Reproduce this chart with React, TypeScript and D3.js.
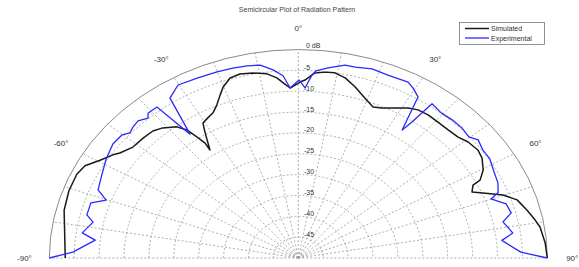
import React from 'react';
import * as d3 from 'd3';

const W = 579;
const H = 267;

const titleText = 'Semicircular Plot of Radiation Pattern';
const seriesNames = ['Simulated', 'Experimental'];

const simAngles = [-90, -76.3, -70.7, -65.7, -62.7, -59.5, -56.4, -54.9, -51.3, -47.3, -43.8, -41.1, -37.8, -36.1, -35.0, -34.2, -34.4, -31.8, -30.6, -28.4, -26.2, -24.0, -21.9, -20.2, -17.6, -14.9, -11.6, -8.1, -5.7, -3.7, -2.3, 0.5, 1.8, 4.3, 6.9, 9.4, 12.3, 15.5, 19.2, 22.5, 25.0, 28.4, 31.5, 34.1, 37.2, 40.7, 44.4, 47.9, 50.8, 54.3, 57.0, 60.4, 62.9, 63.5, 65.6, 67.2, 69.8, 72.4, 76.0, 79.1, 81.3, 85.8, 90];
const simDb = [-3.2, -1.6, -1.2, -1.2, -1.8, -3.8, -5.3, -6.2, -7.45, -7.6, -7.8, -8.6, -10.2, -12.0, -14.6, -16.7, -18.6, -14.4, -12.4, -11.8, -11.2, -9.8, -7.9, -6.3, -4.7, -4.35, -4.7, -5.4, -6.6, -8.2, -9.2, -7.8, -7.3, -5.5, -5.1, -5.0, -5.8, -7.4, -9.4, -10.8, -10.3, -9.1, -7.8, -7.1, -6.9, -7.0, -7.0, -6.75, -6.0, -5.6, -6.0, -7.3, -9.0, -10.8, -11.7, -9.8, -6.2, -3.9, -2.65, -1.6, -0.9, -0.3, 0];

const expAngles = [-90, -88.2, -84.0, -82.1, -78.2, -76.3, -72.4, -70.2, -67.9, -63.2, -58.4, -53.7, -50.2, -48.4, -46.6, -44.4, -42.0, -41.0, -38.1, -36.2, -33.9, -30.2, -25.2, -20.1, -16.1, -12.6, -9.4, -6.4, -4.0, -2.3, 0.2, 1.9, 3.6, 4.5, 7.5, 11.5, 14.0, 18.1, 22.3, 27.6, 29.5, 31.9, 34.2, 35.0, 35.5, 36.0, 39.5, 43.0, 46.5, 49.7, 51.9, 55.1, 58.3, 62.3, 65.8, 68.6, 69.9, 72.7, 75.8, 78.1, 82.1, 84.1, 88.2, 90];
const expDb = [0, -4.7, -9.0, -6.2, -7.9, -6.3, -6.3, -9.0, -6.6, -5.8, -4.7, -3.8, -3.9, -4.8, -4.3, -4.0, -4.9, -4.0, -4.0, -13.2, -3.8, -2.0, -2.3, -2.5, -2.6, -2.8, -3.1, -4.6, -6.2, -9.2, -7.3, -9.2, -6.0, -5.0, -4.0, -2.8, -2.8, -2.3, -2.6, -2.4, -3.2, -4.5, -12.9, -10.2, -7.3, -4.3, -4.9, -4.7, -4.7, -5.1, -4.1, -4.8, -4.8, -5.6, -6.05, -6.9, -8.8, -6.3, -5.9, -8.0, -6.5, -8.9, -5.3, 0];

const ringDb = [-5, -10, -15, -20, -25, -30, -35, -40, -45];
const ringLabels = ['-5', '-10', '-15', '-20', '-25', '-30', '-35', '-40', '-45'];
const spokeAngles = [-90, -80, -70, -60, -50, -40, -30, -20, -10, 0, 10, 20, 30, 40, 50, 60, 70, 80, 90];
const angleLabelValues = [-90, -60, -30, 0, 30, 60, 90];

export default function App() {
  const cx = 298.3;
  const cy = 258;
  const RX = 249;
  const RY = 208.5;
  const rX = d3.scaleLinear().domain([-50, 0]).range([0, RX]);
  const rY = d3.scaleLinear().domain([-50, 0]).range([0, RY]);
  const rad = (a: number) => (a * Math.PI) / 180;
  const px = (a: number, db: number) => cx + rX(db) * Math.sin(rad(a));
  const py = (a: number, db: number) => cy - rY(db) * Math.cos(rad(a));

  const line = d3
    .line<[number, number]>()
    .x((d) => px(d[0], d[1]))
    .y((d) => py(d[0], d[1]));

  const simPts: [number, number][] = simAngles.map((a, i) => [a, simDb[i]]);
  const expPts: [number, number][] = expAngles.map((a, i) => [a, expDb[i]]);

  const arcPath = (db: number) => {
    const rx = rX(db);
    const ry = rY(db);
    return `M ${cx - rx} ${cy} A ${rx} ${ry} 0 0 1 ${cx + rx} ${cy}`;
  };

  const font = '"Liberation Sans", Arial, sans-serif';
  const textColor = '#333';
  const gridColor = '#9a9a9a';

  return (
    <svg width={W} height={H} style={{ position: 'absolute', left: 0, top: 0, background: '#fff' }} fontFamily={font}>
      <rect x={0} y={0} width={W} height={H} fill="#fff" />
      <text x={297} y={12} fontSize={7} fill="#444" textAnchor="middle">{titleText}</text>

      {ringDb.map((db) => (
        <path key={'r' + db} d={arcPath(db)} fill="none" stroke={gridColor} strokeWidth={0.8} strokeDasharray="2,2" />
      ))}
      {spokeAngles.map((a) => (
        <line key={'s' + a} x1={cx} y1={cy} x2={px(a, 0)} y2={py(a, 0)} stroke={gridColor} strokeWidth={0.8} strokeDasharray="2,2" />
      ))}
      <path d={arcPath(0)} fill="none" stroke="#8a8a8a" strokeWidth={1} />

      {ringDb.map((db, i) => (
        <text key={'rl' + db} x={304} y={py(0, db) - 3} fontSize={7} fill={textColor} dominantBaseline="central">{ringLabels[i]}</text>
      ))}
      <text x={306} y={py(0, 0) - 4} fontSize={7} fill={textColor} dominantBaseline="central">0 dB</text>

      {angleLabelValues.map((a) => {
        const x = cx + 1.1 * RX * Math.sin(rad(a));
        const y = cy - 1.1 * RY * Math.cos(rad(a));
        return (
          <text key={'al' + a} x={x} y={y} fontSize={8} fill={textColor} textAnchor="middle" dominantBaseline="central">{`${a}°`}</text>
        );
      })}

      <path d={line(simPts) || ''} fill="none" stroke="#1a1a1a" strokeWidth={1.5} strokeLinejoin="round" />
      <path d={line(expPts) || ''} fill="none" stroke="#2a2aff" strokeWidth={1.3} strokeLinejoin="round" />

      <rect x={459.5} y={22.5} width={85} height={22} fill="#fff" stroke="#777" strokeWidth={0.8} />
      <line x1={465} x2={489} y1={28.5} y2={28.5} stroke="#1a1a1a" strokeWidth={1.5} />
      <line x1={465} x2={489} y1={38} y2={38} stroke="#2a2aff" strokeWidth={1.3} />
      <text x={491} y={28.5} fontSize={7} fill={textColor} dominantBaseline="central">{seriesNames[0]}</text>
      <text x={491} y={38} fontSize={7} fill={textColor} dominantBaseline="central">{seriesNames[1]}</text>
    </svg>
  );
}
